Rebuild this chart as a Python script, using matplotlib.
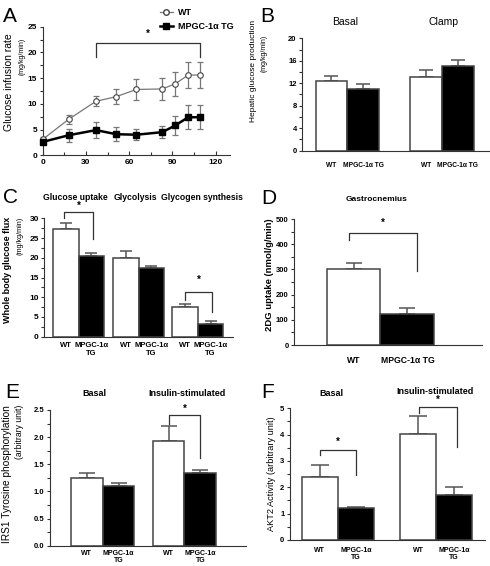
import matplotlib
matplotlib.use("Agg")
import matplotlib.pyplot as plt
from matplotlib.lines import Line2D
from matplotlib.ticker import MultipleLocator

plt.rcParams['font.family'] = ['Liberation Sans', 'DejaVu Sans']

# ---- data ----
# A: glucose infusion rate during clamp
time_min = [0, 18, 37, 51, 65, 83, 92, 101, 109]
gir_wt = [3.1, 7.0, 10.5, 11.4, 12.8, 12.9, 13.9, 15.6, 15.6]
gir_wt_err = [0.5, 0.9, 1.0, 1.5, 2.0, 2.2, 2.3, 2.5, 2.5]
gir_tg = [2.6, 3.9, 4.9, 4.1, 4.0, 4.5, 5.8, 7.4, 7.4]
gir_tg_err = [0.4, 1.3, 1.5, 1.4, 1.1, 1.1, 1.8, 2.3, 2.3]

# B: hepatic glucose production
hgp_groups = ['Basal', 'Clamp']
hgp_wt = [12.4, 13.2]
hgp_wt_err = [0.9, 1.2]
hgp_tg = [11.0, 15.0]
hgp_tg_err = [0.8, 1.1]

# C: whole body glucose flux
flux_groups = ['Glucose uptake', 'Glycolysis', 'Glycogen synthesis']
flux_wt = [27.2, 19.9, 7.5]
flux_wt_err = [1.7, 1.7, 0.9]
flux_tg = [20.5, 17.3, 3.3]
flux_tg_err = [0.8, 0.7, 0.8]

# D: 2DG uptake, gastrocnemius
dg_wt = [302]
dg_wt_err = [22]
dg_tg = [125]
dg_tg_err = [20]

# E: IRS1 tyrosine phosphorylation
irs_groups = ['Basal', 'Insulin-stimulated']
irs_wt = [1.25, 1.92]
irs_wt_err = [0.09, 0.29]
irs_tg = [1.10, 1.34]
irs_tg_err = [0.06, 0.05]

# F: AKT2 activity
akt_groups = ['Basal', 'Insulin-stimulated']
akt_wt = [2.40, 4.01]
akt_wt_err = [0.45, 0.70]
akt_tg = [1.22, 1.72]
akt_tg_err = [0.05, 0.28]

TG = 'MPGC-1\u03b1 TG'
TG2 = 'MPGC-1\u03b1\nTG'

W, H = 490, 566
fig = plt.figure(figsize=(W / 100, H / 100), dpi=100)

def axes_px(l, t, r, b):
    return fig.add_axes([l / W, 1 - b / H, (r - l) / W, (b - t) / H])

def text_px(x, y, s, **kw):
    fig.text(x / W, 1 - y / H, s, **kw)

def style(ax, ymax, major, minor, fs, fmt='{:g}'):
    for s in ['top', 'right']:
        ax.spines[s].set_visible(False)
    for s in ['left', 'bottom']:
        ax.spines[s].set_color('#333')
        ax.spines[s].set_linewidth(0.8)
    ax.set_ylim(0, ymax)
    ticks = [i * major for i in range(int(round(ymax / major)) + 1)]
    ax.set_yticks(ticks, [fmt.format(t) for t in ticks], fontweight='bold', fontsize=fs)
    ax.yaxis.set_minor_locator(MultipleLocator(minor))
    ax.tick_params(axis='y', which='both', direction='out', color='#333', width=0.8, pad=1.5)
    ax.tick_params(axis='y', which='major', length=2.5)
    ax.tick_params(axis='y', which='minor', length=2)
    ax.patch.set_alpha(0)

def bars(ax, centers, wt, wt_err, tg, tg_err, cap, labfs, two_line=True, pad=3):
    xw = [c - 0.5 for c in centers]
    xt = [c + 0.5 for c in centers]
    ax.bar(xw, wt, width=1.0, color='white', edgecolor='#444', linewidth=1.1, zorder=2)
    ax.bar(xt, tg, width=1.0, color='black', edgecolor='#444', linewidth=1.1, zorder=2)
    ax.errorbar(xw, wt, yerr=[[0] * len(wt), wt_err], fmt='none', ecolor='#555',
                elinewidth=1.1, capsize=cap, capthick=1.1, zorder=1)
    ax.errorbar(xt, tg, yerr=[[0] * len(tg), tg_err], fmt='none', ecolor='#555',
                elinewidth=1.1, capsize=cap, capthick=1.1, zorder=1)
    pos, labs = [], []
    for a, b in zip(xw, xt):
        pos += [a, b]
        labs += ['WT', TG2 if two_line else TG]
    ax.set_xticks(pos, labs, fontweight='bold', fontsize=labfs, linespacing=1.1)
    ax.tick_params(axis='x', length=0, pad=pad)
    return xw, xt

def bracket(ax, x1, x2, top, y1, y2, ystar):
    ax.plot([x1, x1, x2, x2], [y1, top, top, y2], color='#333', lw=0.9, clip_on=False)
    ax.text((x1 + x2) / 2, ystar, '*', ha='center', va='center', fontsize=7, fontweight='bold')

# ---------- A ----------
axA = axes_px(42.7, 26.7, 230, 155.3)
style(axA, 25, 5, 2.5, 6)
axA.set_xlim(0, 130)
axA.set_xticks([0, 30, 60, 90, 120], ['0', '30', '60', '90', '120'], fontweight='bold', fontsize=6)
axA.xaxis.set_minor_locator(MultipleLocator(15))
axA.tick_params(axis='x', which='both', direction='in', color='#333', width=0.8, pad=2.5)
axA.tick_params(axis='x', which='major', length=3)
axA.tick_params(axis='x', which='minor', length=2.5)
axA.errorbar(time_min, gir_wt, yerr=gir_wt_err, fmt='none', ecolor='#777',
             elinewidth=0.9, capsize=2.2, capthick=0.9, clip_on=False)
axA.errorbar(time_min, gir_tg, yerr=gir_tg_err, fmt='none', ecolor='#777',
             elinewidth=0.9, capsize=2.2, capthick=0.9, clip_on=False)
axA.plot(time_min, gir_wt, color='#777', lw=0.9, marker='o', ms=4, mfc='white',
         mec='#444', mew=0.8, clip_on=False, zorder=3)
axA.plot(time_min, gir_tg, color='black', lw=1.8, marker='s', ms=5, mfc='black',
         mec='black', clip_on=False, zorder=3)
bracket(axA, time_min[2], time_min[-1], 21.8, 19.2, 19.2, 23.6)
hA = [Line2D([], [], color='#777', lw=0.9, marker='o', ms=4, mfc='white', mec='#444'),
      Line2D([], [], color='black', lw=1.8, marker='s', ms=5, mfc='black')]
axA.legend(hA, ['WT', TG], loc='upper left', bbox_to_anchor=(160 / W, 1 - 8 / H),
           bbox_transform=fig.transFigure, frameon=False, borderpad=0, borderaxespad=0,
           handlelength=1.4, handletextpad=0.6, labelspacing=0.55,
           prop={'weight': 'bold', 'size': 6.5})
text_px(3, 7, 'A', fontsize=15, va='top', ha='left')
text_px(9.3, 33, 'Glucose infusion rate', rotation=90, va='top', ha='center', fontsize=7.5)
text_px(22, 38, '(mg/kg/min)', rotation=90, va='top', ha='center', fontsize=5)

# ---------- B ----------
axB = axes_px(302.3, 38.3, 490, 150.7)
style(axB, 20, 4, 2, 5.5)
axB.set_xlim(0, 5.92)
bars(axB, [1.42, 4.40], hgp_wt, hgp_wt_err, hgp_tg, hgp_tg_err, 5, 4.8, two_line=False, pad=8)
text_px(260, 7, 'B', fontsize=15, va='top', ha='left')
for gx, g in zip([345, 443], hgp_groups):
    text_px(gx, 22, g, ha='center', va='center', fontsize=7.5)
text_px(253.3, 20, 'Hepatic glucose production', rotation=90, va='top', ha='center', fontsize=6)
text_px(263.7, 35, '(mg/kg/min)', rotation=90, va='top', ha='center', fontsize=5)

# ---------- C ----------
axC = axes_px(44.3, 218.3, 233, 336.7)
style(axC, 30, 5, 2.5, 6)
axC.set_xlim(0, 7.4)
cw, ct = bars(axC, [1.35, 3.70, 6.02], flux_wt, flux_wt_err, flux_tg, flux_tg_err, 4.2, 5.5, pad=4)
bracket(axC, cw[0] - 0.07, ct[0] + 0.07, 31.5, 30.2, 24.7, 33.1)
bracket(axC, cw[2], ct[2] + 0.07, 11.4, 9.3, 6.3, 14.4)
text_px(2.7, 188, 'C', fontsize=15, va='top', ha='left')
for gx, g in zip([75, 135.7, 201.7], flux_groups):
    text_px(gx, 197, g, ha='center', va='center', fontsize=6.2, fontweight='bold')
text_px(7.3, 216.7, 'Whole body glucose flux', rotation=90, va='top', ha='center',
        fontsize=6.5, fontweight='bold')
text_px(20, 216.7, '(mg/kg/min)', rotation=90, va='top', ha='center', fontsize=5.2)

# ---------- D ----------
axD = axes_px(294.3, 219, 482.3, 345)
style(axD, 500, 100, 50, 5.5)
axD.set_xlim(0, 3.49)
dw, dt = bars(axD, [1.6], dg_wt, dg_wt_err, dg_tg, dg_tg_err, 6, 6.2, two_line=False, pad=8)
bracket(axD, dw[0] - 0.08, dt[0] + 0.17, 443, 417, 294, 483)
text_px(261, 189, 'D', fontsize=15, va='top', ha='left')
text_px(376.7, 199, 'Gastrocnemius', ha='center', va='center', fontsize=6, fontweight='bold')
text_px(270, 218, '2DG uptake (nmol/g/min)', rotation=90, va='top', ha='center',
        fontsize=6.8, fontweight='bold')

# ---------- E ----------
axE = axes_px(50, 410, 246, 545.7)
style(axE, 2.5, 0.5, 0.25, 5.5, fmt='{:.1f}')
axE.set_xlim(0, 6.18)
ew, et = bars(axE, [1.66, 4.24], irs_wt, irs_wt_err, irs_tg, irs_tg_err, 5.5, 5, pad=3)
bracket(axE, ew[1], et[1], 2.40, 2.24, 1.61, 2.52)
text_px(5, 383, 'E', fontsize=15, va='top', ha='left')
for gx, g in zip([94.3, 186.7], irs_groups):
    text_px(gx, 393.3, g, ha='center', va='center', fontsize=6.5, fontweight='bold')
text_px(7.3, 405, 'IRS1 Tyrosine phosphorylation', rotation=90, va='top', ha='center', fontsize=7.3)
text_px(20, 405, '(arbitrary unit)', rotation=90, va='top', ha='center', fontsize=6.2)

# ---------- F ----------
axF = axes_px(290, 408.3, 485, 540)
style(axF, 5, 1, 0.5, 5.5)
axF.set_xlim(0, 5.42)
fw, ft = bars(axF, [1.33, 4.06], akt_wt, akt_wt_err, akt_tg, akt_tg_err, 6.5, 5, pad=5)
bracket(axF, fw[0], ft[0], 3.42, 3.23, 2.47, 3.73)
bracket(axF, fw[1] + 0.03, ft[1] + 0.09, 5.06, 4.81, 3.54, 5.31)
text_px(261, 383, 'F', fontsize=15, va='top', ha='left')
for gx, gy, g in zip([331, 435], [393.3, 391.7], akt_groups):
    text_px(gx, gy, g, ha='center', va='center', fontsize=6.5, fontweight='bold')
text_px(271.7, 416.7, 'AKT2 Activity (arbitrary unit)', rotation=90, va='top', ha='center',
        fontsize=6.6)

fig.savefig('out.png', dpi=100)
